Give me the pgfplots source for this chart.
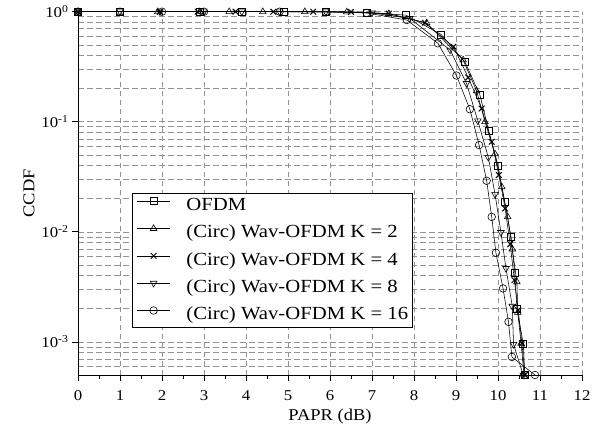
\documentclass[border=0pt]{standalone}
\usepackage{fontspec}
\setmainfont{Liberation Serif}[FakeStretch=1.12]
\usepackage{pgfplots}
\pgfplotsset{compat=1.18}
\begin{document}
\begin{tikzpicture}
\begin{axis}[
  at={(0,0)}, anchor=south west,
  scale only axis, width=504bp, height=363.3bp,
  ymode=log, log basis y=10,
  xmin=0, xmax=12, ymin=5e-4, ymax=1,
  axis lines=left, axis line style={-, line width=0.9pt},
  xtick={0,1,...,12}, minor x tick num=1,
  ytick={1e-3,1e-2,1e-1,1},
  minor ytick={6e-4,7e-4,8e-4,9e-4,2e-3,3e-3,4e-3,5e-3,6e-3,7e-3,8e-3,9e-3,2e-2,3e-2,4e-2,5e-2,6e-2,7e-2,8e-2,9e-2,0.2,0.3,0.4,0.5,0.6,0.7,0.8,0.9},
  yticklabels={10\textsuperscript{-3},10\textsuperscript{-2},10\textsuperscript{-1},10\textsuperscript{0}},
  /pgf/number format/assume math mode=true,
  tick align=outside,
  major tick length=6bp, minor tick length=3.5bp,
  tick style={black, line width=0.7pt},
  minor y tick style={draw=white},
  xmajorgrids, ymajorgrids, yminorgrids,
  major grid style={draw=gray!85, dash pattern=on 5.5bp off 3.5bp, line width=0.6pt},
  minor grid style={draw=gray!85, dash pattern=on 5.5bp off 3.5bp, line width=0.6pt},
  tick label style={font=\fontsize{15bp}{17bp}\selectfont},
  xticklabel style={yshift=-6bp},
  xlabel={PAPR (dB)}, ylabel={CCDF},
  label style={font=\fontsize{16.5bp}{19bp}\selectfont},
  xlabel style={yshift=-2bp},
  ylabel style={yshift=0bp},
  legend cell align=left,
  legend style={at={(rel axis cs:0.107,0.129)}, anchor=south west, draw=black, line width=0.8pt,
    font=\fontsize{18.5bp}{20bp}\selectfont, row sep=9.8bp, column sep=16bp, inner xsep=4.5bp, inner ysep=4bp,
    nodes={inner sep=0pt, text height=13.5bp, text depth=4bp}},
  legend image code/.code={\draw[mark repeat=2,mark phase=2,yshift=4.5bp] plot coordinates {(0bp,0bp) (16.5bp,0bp) (33bp,0bp)};},
]
\addplot[black, line width=0.55pt, mark=square, mark size=3.5bp, mark options={solid, line width=0.6pt}] coordinates {(0,1) (1,1) (2.9,1) (3.9,1) (4.9,1) (5.9,1) (6.87,0.985) (7.81,0.93) (8.64,0.623) (9.21,0.351) (9.57,0.175) (9.78,0.0823) (10.0,0.0398) (10.16,0.0187) (10.31,0.009) (10.4,0.00427) (10.45,0.00201) (10.6,0.00097) (10.64,0.0005)};
\addlegendentry{OFDM}
\addplot[black, line width=0.55pt, mark=triangle, mark size=3.8bp, mark options={solid, line width=0.6pt}] coordinates {(0,1) (1.9,1) (2.9,1) (3.6,1) (4.4,1) (5.4,1) (6.4,0.995) (7.4,0.96) (8.3,0.79) (9.17,0.364) (9.49,0.191) (9.69,0.1) (9.93,0.0509) (10.09,0.0256) (10.23,0.0137) (10.34,0.00697) (10.45,0.00351) (10.47,0.00185) (10.55,0.00097) (10.62,0.0005)};
\addlegendentry{(Circ) Wav-OFDM K = 2}
\addplot[black, line width=0.55pt, mark=x, mark size=4bp, mark options={solid, line width=1pt}] coordinates {(0,1) (1.95,1) (2.85,1) (3.75,1) (4.65,1) (5.6,1) (6.5,0.995) (7.4,0.96) (8.26,0.794) (8.94,0.481) (9.29,0.253) (9.61,0.132) (9.85,0.0658) (10.02,0.0328) (10.17,0.0163) (10.29,0.00773) (10.39,0.00364) (10.48,0.00194) (10.57,0.00097) (10.64,0.0005)};
\addlegendentry{(Circ) Wav-OFDM K = 4}
\addplot[black, line width=0.55pt, mark=triangle, mark size=3.8bp, mark options={solid, line width=0.6pt, rotate=180}] coordinates {(0,1) (1,1) (1.95,1) (3,1) (3.9,1) (4.8,1) (5.9,0.998) (7.0,0.975) (7.9,0.87) (8.86,0.449) (9.25,0.223) (9.52,0.102) (9.77,0.0475) (9.93,0.0219) (10.07,0.00988) (10.19,0.00465) (10.34,0.00211) (10.37,0.00095) (10.6,0.0005)};
\addlegendentry{(Circ) Wav-OFDM K = 8}
\addplot[black, line width=0.55pt, mark=o, mark size=3.8bp, mark options={solid, line width=0.6pt}] coordinates {(0,1) (1,1) (2,1) (3,1) (4.8,1) (5.9,0.995) (6.87,0.975) (7.83,0.84) (8.57,0.516) (9.01,0.263) (9.33,0.13) (9.55,0.0614) (9.73,0.0291) (9.85,0.01368) (9.95,0.00645) (10.12,0.00306) (10.25,0.00152) (10.33,0.00073) (10.88,0.0005)};
\addlegendentry{(Circ) Wav-OFDM K = 16}
\end{axis}
\pgfresetboundingbox
\useasboundingbox (-78bp,-57bp) rectangle (530bp,375bp);
\end{tikzpicture}
\end{document}
